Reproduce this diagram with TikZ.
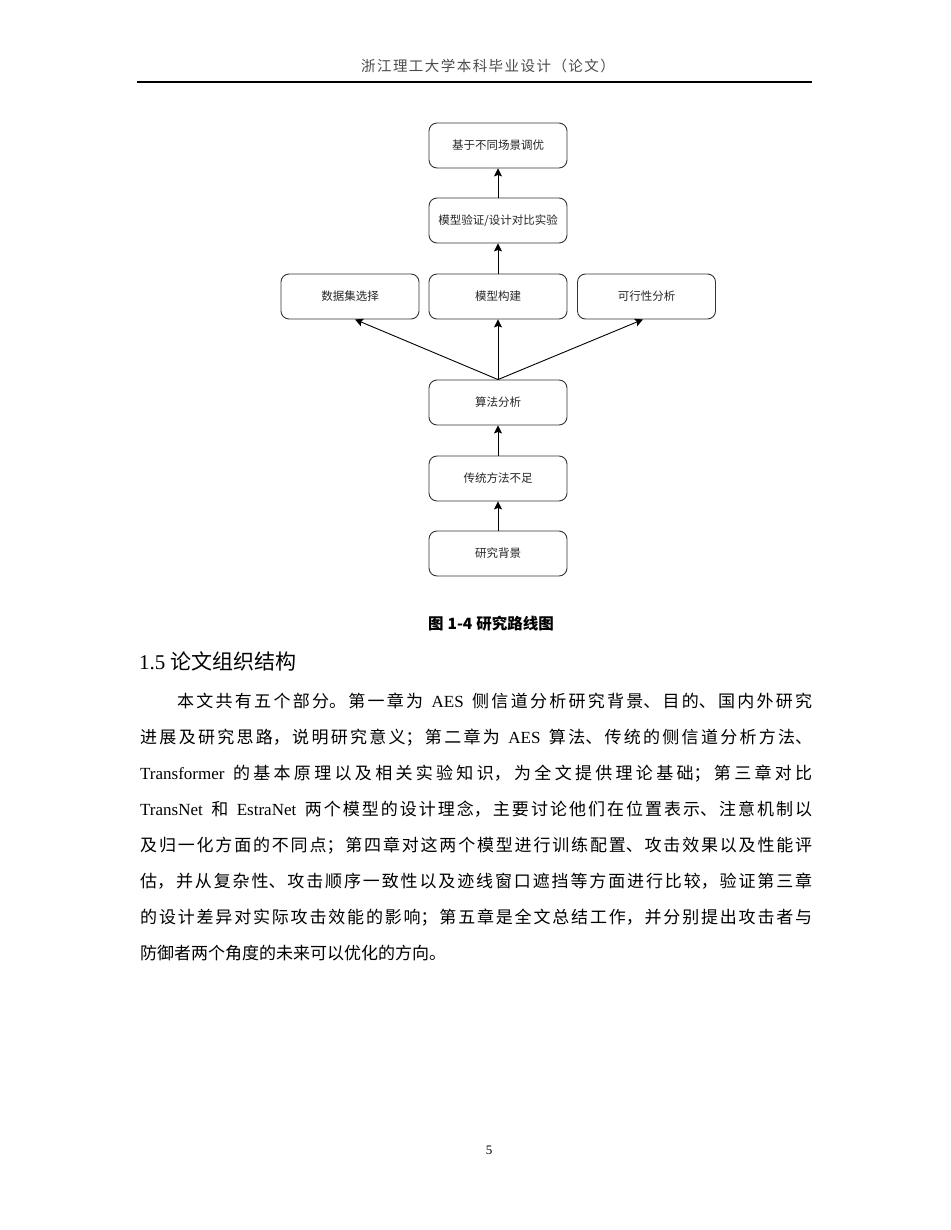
\documentclass[tikz,border=0pt]{standalone}
\usepackage{fontspec}
\usetikzlibrary{arrows.meta}
\setmainfont{Liberation Serif}
\newfontfamily\cjk{Noto Sans CJK SC}
\newfontfamily\cjkhead[LetterSpace=10]{Noto Sans CJK SC}
\newcommand\lat[1]{{\rmfamily #1}}
\newcommand\ws{\hspace{8.5pt}}
\XeTeXlinebreaklocale "zh"
\XeTeXlinebreakskip=0pt plus 4pt
\begin{document}
\begin{tikzpicture}[x=1pt,y=-1pt,
  box/.style={draw=black!80, line width=0.9pt, rounded corners=8pt,
    minimum width=138pt, minimum height=45pt, inner sep=0pt,
    font=\fontsize{11.5}{13}\selectfont\cjk, text=black!85},
  arr/.style={-{Stealth[length=8pt,width=8pt,inset=1.5pt]}, line width=0.9pt, black},
  bodytext/.style={anchor=base west, inner sep=0pt, text=black}]
\fill[white] (0,0) rectangle (950,1230);
\useasboundingbox (0,0) rectangle (950,1230);
% header
\node (hdr) at (488,66) {\fontsize{14.5}{16}\selectfont\cjkhead\color{black!70}浙江理工大学本科毕业设计（论文）};
\draw[line width=2pt] (137,82) -- (812,82);
% diagram
\node[box] (top) at (498,145.5) {基于不同场景调优};
\node[box] (valid) at (498,220.5) {模型验证/设计对比实验};
\node[box] (build) at (498,296.5) {模型构建};
\node[box] (data) at (350,296.5) {数据集选择};
\node[box] (feas) at (646.5,296.5) {可行性分析};
\node[box] (algo) at (498,402.5) {算法分析};
\node[box] (trad) at (498,478.5) {传统方法不足};
\node[box] (bg) at (498,553.5) {研究背景};
\draw[arr] (bg.north) -- (trad.south);
\draw[arr] (trad.north) -- (algo.south);
\draw[arr] (algo.north) -- (build.south);
\draw[arr] (algo.north) -- ([xshift=5pt]data.south);
\draw[arr] (algo.north) -- ([xshift=-3.5pt]feas.south);
\draw[arr] (build.north) -- (valid.south);
\draw[arr] (valid.north) -- (top.south);
% caption
\node (cap) at (491,624) {\fontsize{15.5}{17}\selectfont\cjk\bfseries 图\hspace{4pt}1-4\hspace{4pt}研究路线图};
% heading
\node[bodytext] (head) at (139,669) {\fontsize{21}{24}\selectfont\cjk\lat{1.5} 论文组织结构};
% body
\node[bodytext] (body) at (140,707) {\parbox[t]{672pt}{\fontsize{17}{36}\selectfont\cjk\hspace*{37pt}本文共有五个部分。第一章为\ws{}\lat{AES}\ws{}侧信道分析研究背景、目的、国内外研究\linebreak
进展及研究思路，说明研究意义；第二章为\ws{}\lat{AES}\ws{}算法、传统的侧信道分析方法、\linebreak
\lat{Transformer}\ws{}的基本原理以及相关实验知识，为全文提供理论基础；第三章对比\linebreak
\lat{TransNet}\ws{}和\ws{}\lat{EstraNet}\ws{}两个模型的设计理念，主要讨论他们在位置表示、注意机制以\linebreak
及归一化方面的不同点；第四章对这两个模型进行训练配置、攻击效果以及性能评\linebreak
估，并从复杂性、攻击顺序一致性以及迹线窗口遮挡等方面进行比较，验证第三章\linebreak
的设计差异对实际攻击效能的影响；第五章是全文总结工作，并分别提出攻击者与\linebreak
防御者两个角度的未来可以优化的方向。}};
% page number
\node (pg) at (489,1150) {\fontsize{13}{15}\selectfont 5};
\end{tikzpicture}
\end{document}
